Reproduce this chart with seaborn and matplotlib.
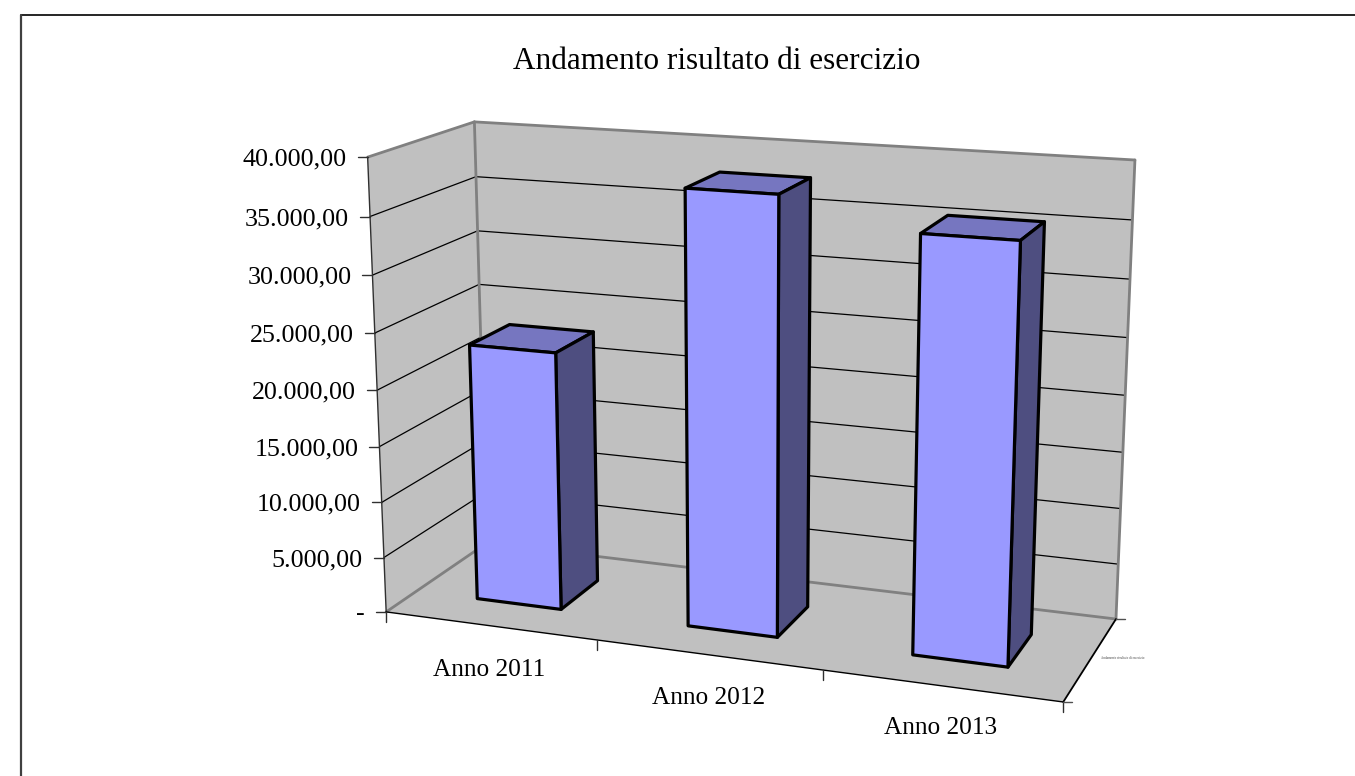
import numpy as np
import matplotlib
matplotlib.use("Agg")
import matplotlib.pyplot as plt
from matplotlib.patches import Polygon, Rectangle
from matplotlib.transforms import Transform, Affine2D
import seaborn as sns

# Chart content
title_text = "Andamento risultato di esercizio"
years = ["Anno 2011", "Anno 2012", "Anno 2013"]
risultato = [23100, 38000, 35600]
value_ticks = [0, 5000, 10000, 15000, 20000, 25000, 30000, 35000, 40000]
value_labels = ["-", "5.000,00", "10.000,00", "15.000,00", "20.000,00",
                "25.000,00", "30.000,00", "35.000,00", "40.000,00"]
side_caption = "Andamento risultato di esercizio"

# Colours
WALL = "#c0c0c0"
FRONT = "#9999ff"
TOP = "#7676c0"
SIDE = "#4e4e80"
FRAME_GREY = "#808080"

# Cube corners (x, value, depth) and where they land on the canvas, used to
# solve the camera of the 3D box.
XMIN, XMAX = -0.5, 2.5
VMAX = 40000
camera_world = np.array([
    [XMIN, 0, 0], [XMAX, 0, 0], [XMAX, 0, 1], [XMIN, 0, 1],
    [XMIN, VMAX, 0], [XMIN, VMAX, 1], [XMAX, VMAX, 1],
    [0.5, 0, 0], [1.5, 0, 0],
], float)
camera_canvas = np.array([
    [386, 612], [1063, 702], [1116, 619], [487, 543],
    [368, 157], [474, 122], [1135, 160],
    [597, 640], [823, 670],
], float)


def solve_camera(world, canvas):
    scale = np.array([1.0, 1.0 / VMAX, 1.0])
    rows = []
    for (x, v, d), (u, w) in zip(world * scale, canvas):
        rows.append([x, v, d, 1, 0, 0, 0, 0, -u * x, -u * v, -u * d, -u])
        rows.append([0, 0, 0, 0, x, v, d, 1, -w * x, -w * v, -w * d, -w])
    _, _, vt = np.linalg.svd(np.array(rows))
    return vt[-1].reshape(3, 4), scale


CAMERA, SCALE = solve_camera(camera_world, camera_canvas)


def project(x, v, d):
    """Map category position, value and depth to canvas pixels."""
    x, v, d = np.broadcast_arrays(np.asarray(x, float), np.asarray(v, float), np.asarray(d, float))
    p = np.stack([x * SCALE[0], v * SCALE[1], d * SCALE[2], np.ones_like(x)], axis=-1)
    h = p @ CAMERA.T
    return h[..., :2] / h[..., 2:3]


class DepthPlane(Transform):
    """Send (category position, value) on a plane of constant depth to pixels."""
    input_dims = 2
    output_dims = 2
    is_separable = False
    has_inverse = False

    def __init__(self, plane_depth):
        super().__init__()
        self.plane_depth = plane_depth

    def transform_non_affine(self, values):
        values = np.asarray(values, float)
        return project(values[:, 0], values[:, 1], self.plane_depth)


sns.set_theme(style="white", rc={"font.family": ["Liberation Serif", "DejaVu Serif"]})
plt.rcParams["font.family"] = ["Liberation Serif", "DejaVu Serif"]

W, H = 1355, 776
fig = plt.figure(figsize=(W / 100, H / 100), dpi=100, facecolor="white")
ax = fig.add_axes([0, 0, 1, 1])
ax.set_axis_off()

# Canvas pixels with the origin at the top left
canvas = Affine2D().scale(1 / W, -1 / H).translate(0, 1) + ax.transAxes


def face(corners, fc, ec="black", lw=1.0, z=2):
    ax.add_patch(Polygon(np.asarray(corners), closed=True, transform=canvas, facecolor=fc,
                         edgecolor=ec, linewidth=lw, zorder=z, clip_on=False, joinstyle="round"))


def seg(p, q, color="black", lw=1.0, z=3):
    ax.plot([p[0], q[0]], [p[1], q[1]], color=color, lw=lw, transform=canvas, zorder=z,
            clip_on=False, solid_capstyle="round")


# Outer frame: top and left edges only
seg((20.5, 14.5), (1355, 14.5), color="black", lw=1.2)
seg((21, 14.5), (21, 776), color="#404040", lw=1.6)

# Walls and floor
face(project([XMIN, XMAX, XMAX, XMIN], 0, [0, 0, 1, 1]), WALL, ec="none", z=1)
face(project(XMIN, [0, VMAX, VMAX, 0], [0, 0, 1, 1]), WALL, ec="none", z=1)
face(project([XMIN, XMAX, XMAX, XMIN], [0, 0, VMAX, VMAX], 1), WALL, ec="none", z=1)

# Gridlines across side and back walls
for v in value_ticks[1:-1]:
    seg(project(XMIN, v, 0), project(XMIN, v, 1), lw=0.9, z=1.5)
    seg(project(XMIN, v, 1), project(XMAX, v, 1), lw=0.9, z=1.5)

# Grey wall edges
for p, q in [((XMIN, VMAX, 0), (XMIN, VMAX, 1)), ((XMIN, VMAX, 1), (XMAX, VMAX, 1)),
             ((XMAX, VMAX, 1), (XMAX, 0, 1)), ((XMIN, VMAX, 1), (XMIN, 0, 1)),
             ((XMIN, 0, 1), (XMAX, 0, 1)), ((XMIN, 0, 0), (XMIN, 0, 1))]:
    seg(project(*p), project(*q), color=FRAME_GREY, lw=2.0, z=1.6)

# Front edges of the box
seg(project(XMIN, 0, 0), project(XMIN, VMAX, 0), color="#303030", lw=1.0)
seg(project(XMIN, 0, 0), project(XMAX, 0, 0), lw=1.0)
seg(project(XMAX, 0, 0), project(XMAX, 0, 1), lw=1.3)

# Value axis ticks and labels
for v, lab in zip(value_ticks, value_labels):
    p = project(XMIN, v, 0)[()]
    seg(p, (p[0] - 10, p[1]), color="#303030", lw=1.0)
    ax.text(p[0] - 21, p[1], lab, transform=canvas, ha="right", va="center_baseline",
            fontsize=18.7, color="black")

# Category ticks and labels
for x in [XMIN, 0.5, 1.5, XMAX]:
    p = project(x, 0, 0)[()]
    seg(p, (p[0], p[1] + 10), color="#303030", lw=1.0)
for lab, px in zip(years, [(489, 667), (708.5, 695), (941, 726)]):
    ax.text(px[0], px[1], lab, transform=canvas, ha="center", va="center_baseline",
            fontsize=18.2, color="black")

# Depth axis ticks and the tiny series caption
for d in [0, 1]:
    p = project(XMAX, 0, d)[()]
    seg(p, (p[0] + 9, p[1]), color="#505050", lw=1.0)
ax.text(1123, 658, side_caption, transform=canvas, ha="center", va="center",
        fontsize=2.3, color="#404040")

# Bars: fronts come from seaborn, then sit on their depth plane inside the box
BAR_W = 0.405
DEPTH_FRONT, DEPTH_BACK = 0.29, 0.69
sns.barplot(x=years, y=risultato, ax=ax, color=FRONT, saturation=1, width=BAR_W,
            edgecolor="black", linewidth=2.3, legend=False)
ax.set_axis_off()
front_plane = DepthPlane(DEPTH_FRONT) + canvas
for bar in ax.patches:
    if not isinstance(bar, Rectangle):
        continue
    x0, x1 = bar.get_x(), bar.get_x() + bar.get_width()
    v = bar.get_height()
    bar.set_transform(front_plane)
    bar.set_clip_on(False)
    bar.set_zorder(5)
    bar.set_joinstyle("round")
    face(project([x0, x1, x1, x0], v, [DEPTH_FRONT, DEPTH_FRONT, DEPTH_BACK, DEPTH_BACK]),
         TOP, lw=2.3, z=4)
    face(project(x1, [0, v, v, 0], [DEPTH_FRONT, DEPTH_FRONT, DEPTH_BACK, DEPTH_BACK]),
         SIDE, lw=2.3, z=4)

ax.text(716.5, 58, title_text, transform=canvas, ha="center", va="center_baseline",
        fontsize=22.5, color="black")

fig.savefig("out.png", dpi=100, facecolor="white")
